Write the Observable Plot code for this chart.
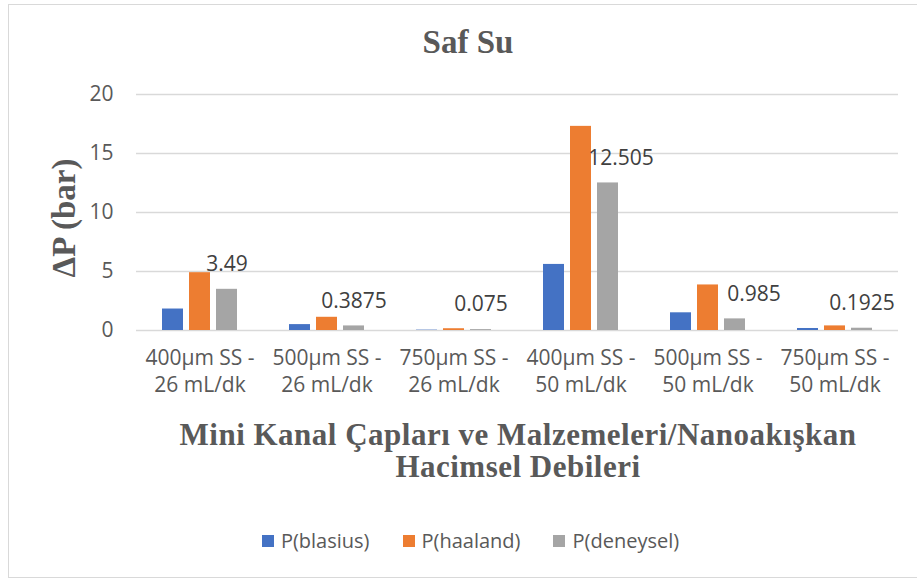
<!DOCTYPE html>
<html>
<head>
<meta charset="utf-8">
<script src="https://cdn.jsdelivr.net/npm/d3@7"></script>
<script src="https://cdn.jsdelivr.net/npm/@observablehq/plot@0.6"></script>
<style>
  html, body { margin: 0; padding: 0; background: #fff; }
  #wrap { position: relative; width: 917px; height: 581px; overflow: hidden; font-family: "Open Sans", sans-serif; }
  #border { position: absolute; left: 8px; top: 4px; width: 920px; height: 574px; border: 1.5px solid #d9d9d9; box-sizing: border-box; }
  #chart { position: absolute; left: 0; top: 0; }
  .serif { position: absolute; font-family: "Liberation Serif", "Times New Roman", serif; font-weight: bold; color: #595959; white-space: nowrap; }
  #title { left: 368px; width: 200px; text-align: center; top: 23px; font-size: 33px; line-height: 38px; }
  .xtitle { left: 133px; width: 770px; text-align: center; font-size: 31px; line-height: 30px; letter-spacing: 0.5px; }
  #xtitle1 { top: 420px; }
  #xtitle2 { top: 452px; }
  #ytitle { left: 64px; top: 218px; font-size: 33px; transform: translate(-50%, -50%) rotate(-90deg); line-height: 33px; }
  #legend { position: absolute; top: 527px; left: 12px; width: 917px; display: flex; justify-content: center; gap: 33px; font-size: 20px; color: #595959; }
  #legend .item { display: flex; align-items: center; gap: 7px; }
  #legend .sw { width: 12px; height: 12px; display: inline-block; }
</style>
</head>
<body>
<div id="wrap">
  <div id="border"></div>
  <div id="chart"></div>
  <div id="title" class="serif">Saf Su</div>
  <div id="ytitle" class="serif">ΔP (bar)</div>
  <div id="xtitle1" class="serif xtitle">Mini Kanal Çapları ve Malzemeleri/Nanoakışkan</div>
  <div id="xtitle2" class="serif xtitle">Hacimsel Debileri</div>
  <div id="legend"></div>
</div>
<script>
// ---- data ----
const categories = [
  "400µm SS -\n26 mL/dk",
  "500µm SS -\n26 mL/dk",
  "750µm SS -\n26 mL/dk",
  "400µm SS -\n50 mL/dk",
  "500µm SS -\n50 mL/dk",
  "750µm SS -\n50 mL/dk"
];
const seriesNames = ["P(blasius)", "P(haaland)", "P(deneysel)"];
const blasius  = [1.82, 0.50, 0.03, 5.60, 1.50, 0.17];
const haaland  = [4.90, 1.12, 0.15, 17.30, 3.86, 0.39];
const deneysel = [3.49, 0.3875, 0.075, 12.505, 0.985, 0.1925];
const deneyselLabels = ["3.49", "0.3875", "0.075", "12.505", "0.985", "0.1925"];
const yTicks = [0, 5, 10, 15, 20];
const colors = ["#4472C4", "#ED7D31", "#A5A5A5"];

// ---- build table ----
const seriesValues = [blasius, haaland, deneysel];
const rows = [];
seriesNames.forEach((s, si) => categories.forEach((c, ci) => rows.push({cat: c, series: s, value: seriesValues[si][ci]})));
const labelRows = categories.map((c, i) => ({cat: c, series: seriesNames[2], value: deneysel[i], label: deneyselLabels[i], idx: i}));

const font = "Open Sans, sans-serif";
const fs = 21;
const plot = Plot.plot({
  width: 917,
  height: 581,
  marginTop: 94,
  marginBottom: 251,
  marginLeft: 133,
  marginRight: 17,
  style: {fontFamily: font, fontSize: fs + "px", color: "#595959", background: "transparent"},
  fx: {domain: categories, paddingInner: 0, paddingOuter: 0, label: null},
  x: {domain: seriesNames, paddingInner: 0.214, paddingOuter: 0.889, axis: null},
  y: {domain: [0, 20], label: null},
  color: {domain: seriesNames, range: colors},
  marks: [
    Plot.gridY(yTicks, {stroke: "#d9d9d9", strokeOpacity: 1, strokeWidth: 1.5}),
    Plot.axisY(yTicks, {tickSize: 0, tickPadding: 23, label: null, fill: "#595959", fontSize: fs}),
    Plot.axisFx({anchor: "bottom", tickSize: 0, tickPadding: 15, lineHeight: 1.29, label: null, fill: "#595959", fontSize: fs}),
    Plot.barY(rows, {fx: "cat", x: "series", y: "value", fill: "series"}),
    Plot.text(labelRows.filter(d => d.idx !== 3 && d.idx !== 4), {fx: "cat", x: "series", y: "value", text: "label", dy: -25, fill: "#404040", fontSize: fs}),
    Plot.text(labelRows.filter(d => d.idx === 3), {fx: "cat", x: "series", y: "value", text: "label", dy: -25, dx: 13, fill: "#404040", fontSize: fs}),
    Plot.text(labelRows.filter(d => d.idx === 4), {fx: "cat", x: "series", y: "value", text: "label", dy: -25, dx: 19, fill: "#404040", fontSize: fs})
  ]
});
document.getElementById("chart").appendChild(plot);

const legend = document.getElementById("legend");
seriesNames.forEach((s, i) => {
  const item = document.createElement("div");
  item.className = "item";
  const sw = document.createElement("span");
  sw.className = "sw";
  sw.style.background = colors[i];
  const t = document.createElement("span");
  t.textContent = s;
  item.appendChild(sw); item.appendChild(t);
  legend.appendChild(item);
});
</script>
</body>
</html>
